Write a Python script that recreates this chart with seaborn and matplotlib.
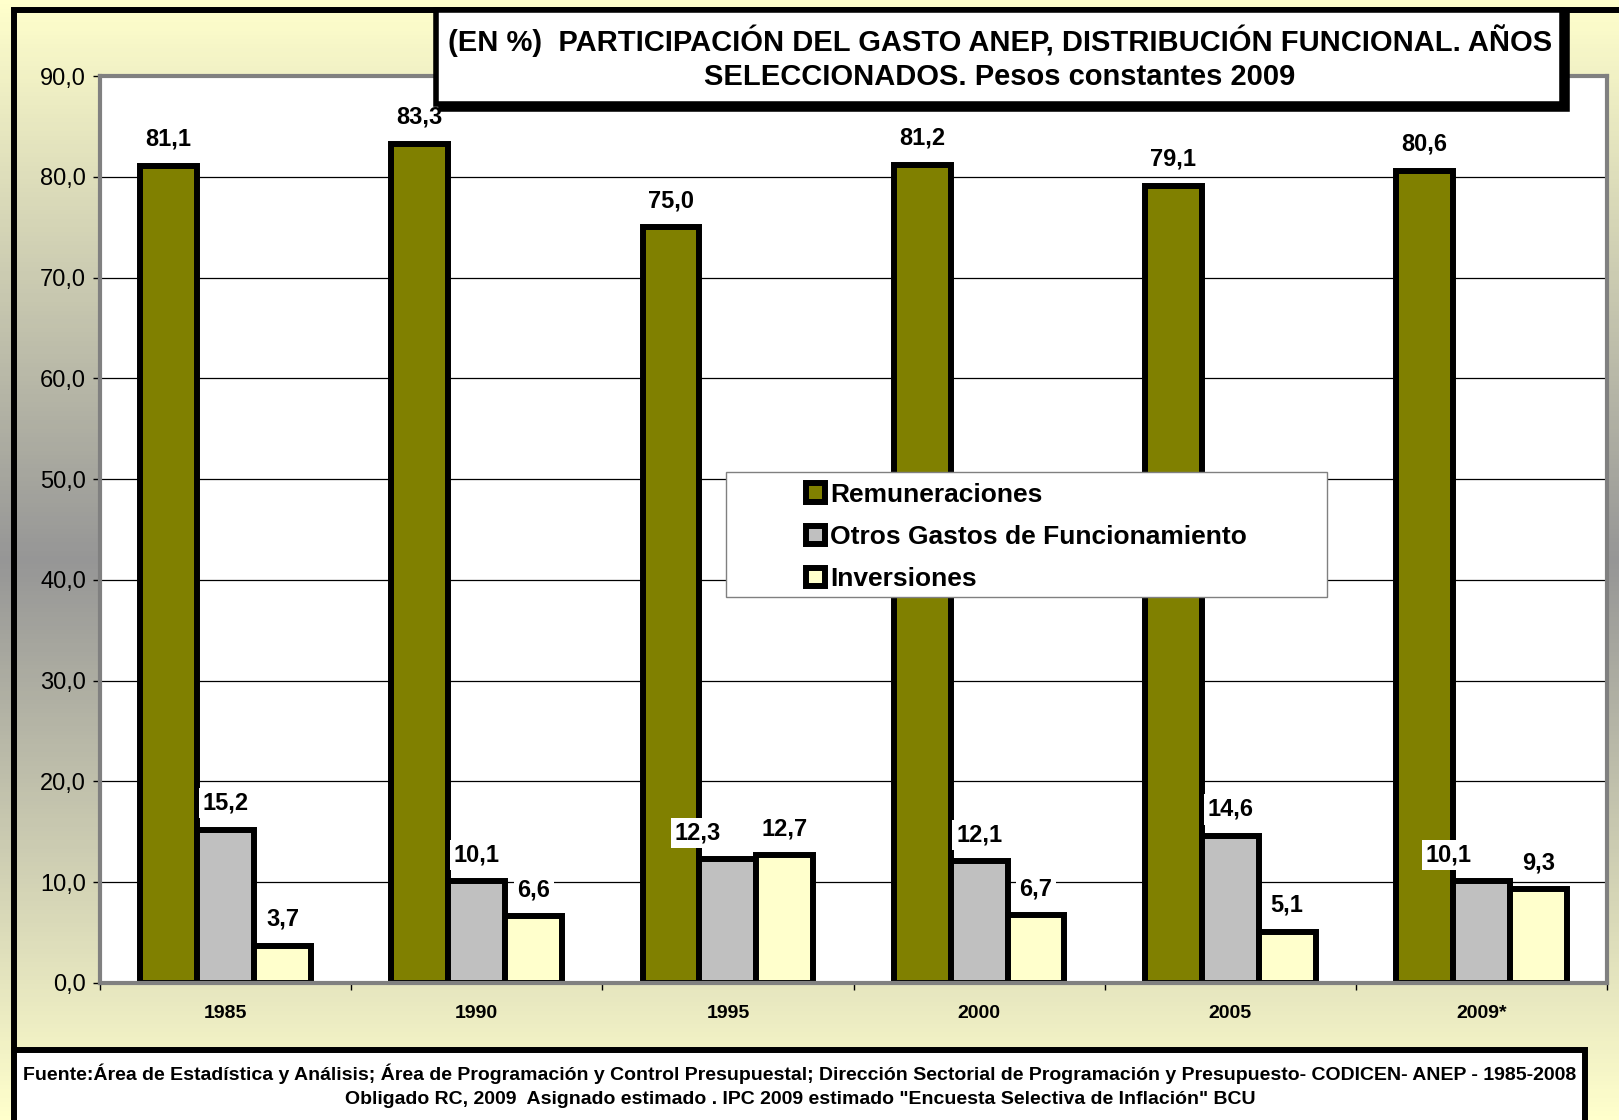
import numpy as np
import pandas as pd
import matplotlib
matplotlib.use('Agg')
import matplotlib.pyplot as plt
import matplotlib.patches as mpatches
from matplotlib.colors import LinearSegmentedColormap
import seaborn as sns

# Chart data
years = ['1985', '1990', '1995', '2000', '2005', '2009*']
remuneraciones = [81.1, 83.3, 75.0, 81.2, 79.1, 80.6]
otros_gastos = [15.2, 10.1, 12.3, 12.1, 14.6, 10.1]
inversiones = [3.7, 6.6, 12.7, 6.7, 5.1, 9.3]
series_names = ['Remuneraciones', 'Otros Gastos de Funcionamiento', 'Inversiones']
series_colors = ['#808000', '#C0C0C0', '#FFFFCC']
y_ticks = [0, 10, 20, 30, 40, 50, 60, 70, 80, 90]

title_lines = ['(EN %)  PARTICIPACIÓN DEL GASTO ANEP, DISTRIBUCIÓN FUNCIONAL. AÑOS',
               'SELECCIONADOS. Pesos constantes 2009']
footer_lines = ['Fuente:Área de Estadística y Análisis; Área de Programación y Control Presupuestal; '
                'Dirección Sectorial de Programación y Presupuesto- CODICEN- ANEP - 1985-2008',
                'Obligado RC, 2009  Asignado estimado . IPC 2009 estimado "Encuesta Selectiva de Inflación" BCU']

df = pd.DataFrame({
    'year': years * 3,
    'serie': [name for name in series_names for _ in years],
    'value': remuneraciones + otros_gastos + inversiones,
})

plt.rcParams['font.family'] = ['Liberation Sans', 'DejaVu Sans']

W, H = 1619, 1120
fig = plt.figure(figsize=(W / 100, H / 100), dpi=100)


def fig_rect(x0, y0, x1, y1, **kw):
    # rectangle given in pixel coords (origin top-left)
    r = mpatches.Rectangle((x0 / W, 1 - y1 / H), (x1 - x0) / W, (y1 - y0) / H,
                           transform=fig.transFigure, **kw)
    fig.add_artist(r)
    return r


# background gradient: yellow -> gray -> yellow
bg = fig.add_axes([0, 0, 1, 1], zorder=-10)
grad_cmap = LinearSegmentedColormap.from_list('bg', ['#FFFFCC', '#969696', '#FFFFCC'])
bg.imshow(np.linspace(0, 1, 256).reshape(-1, 1), aspect='auto', cmap=grad_cmap, extent=[0, 1, 0, 1])
bg.axis('off')

ax = fig.add_axes([100 / W, 1 - 983 / H, (1607 - 100) / W, (983 - 76) / H])
ax.set_facecolor('white')
sns.barplot(data=df, x='year', y='value', hue='serie', palette=series_colors, saturation=1,
            width=0.68, edgecolor='black', linewidth=4.3, errorbar=None, legend=False, ax=ax)

# value labels (two of them were moved left in the original)
nudge = {(1, 2): -30, (1, 5): -33}
for si, cont in enumerate(ax.containers):
    for ci, bar in enumerate(cont):
        val = bar.get_height()
        dx = nudge.get((si, ci), 0) * 0.72
        ax.annotate(f'{val:.1f}'.replace('.', ','),
                    xy=(bar.get_x() + bar.get_width() / 2, val),
                    xytext=(dx, 19), textcoords='offset points',
                    ha='center', va='center', fontsize=17, fontweight='bold',
                    bbox=dict(boxstyle='square,pad=0.15', fc='white', ec='none'), zorder=10)

ax.set_ylim(0, 90)
ax.set_yticks(y_ticks)
ax.set_yticklabels([f'{t:.1f}'.replace('.', ',') for t in y_ticks], fontsize=17)
ax.set_xlim(-0.5, len(years) - 0.5)
ax.set_xticks(range(len(years)))
ax.set_xticklabels(years, fontsize=14, fontweight='bold')
ax.set_xticks(np.arange(-0.5, len(years), 1), minor=True)
ax.tick_params(axis='x', which='major', length=0, pad=16)
ax.tick_params(axis='x', which='minor', length=5, width=1, color='black')
ax.tick_params(axis='y', length=5, width=1, pad=5)
ax.set_xlabel('')
ax.set_ylabel('')
ax.yaxis.grid(True, color='black', linewidth=0.9)
ax.set_axisbelow(True)
for s in ax.spines.values():
    s.set_color('#808080')
    s.set_linewidth(3)

# outer border
fig_rect(14, 10, 1660, 1160, fill=False, ec='black', lw=4.3, zorder=2)

# title box with shadow
fig_rect(441, 15, 1567, 109, fc='black', ec='black', lw=4, zorder=4)
fig_rect(436, 10, 1562, 104, fc='white', ec='black', lw=4, zorder=5)
fig.text(1000 / W, 1 - 41 / H, title_lines[0], ha='center', va='center',
         fontsize=21, fontweight='bold', zorder=6)
fig.text(1000 / W, 1 - 77 / H, title_lines[1], ha='center', va='center',
         fontsize=21, fontweight='bold', zorder=6)

# legend
fig_rect(726, 472, 1327, 597, fc='white', ec='#808080', lw=1, zorder=5)
handles = [mpatches.Patch(facecolor=c, edgecolor='black', linewidth=4.3) for c in series_colors]
leg = fig.legend(handles, series_names, loc='center left', bbox_to_anchor=(793 / W, 1 - 537 / H),
                 frameon=False, prop={'weight': 'bold', 'size': 19}, handlelength=0.7,
                 handleheight=0.7, handletextpad=0.2, labelspacing=0.7, borderpad=0)
leg.set_zorder(6)

# footer box
fig_rect(14, 1050, 1585, 1140, fc='white', ec='black', lw=4.3, zorder=5)
fig.text(800 / W, 1 - 1074 / H, footer_lines[0], ha='center', va='center',
         fontsize=14, fontweight='bold', zorder=6)
fig.text(800 / W, 1 - 1100 / H, footer_lines[1], ha='center', va='center',
         fontsize=14, fontweight='bold', zorder=6)

fig.savefig('out.png', dpi=100)
